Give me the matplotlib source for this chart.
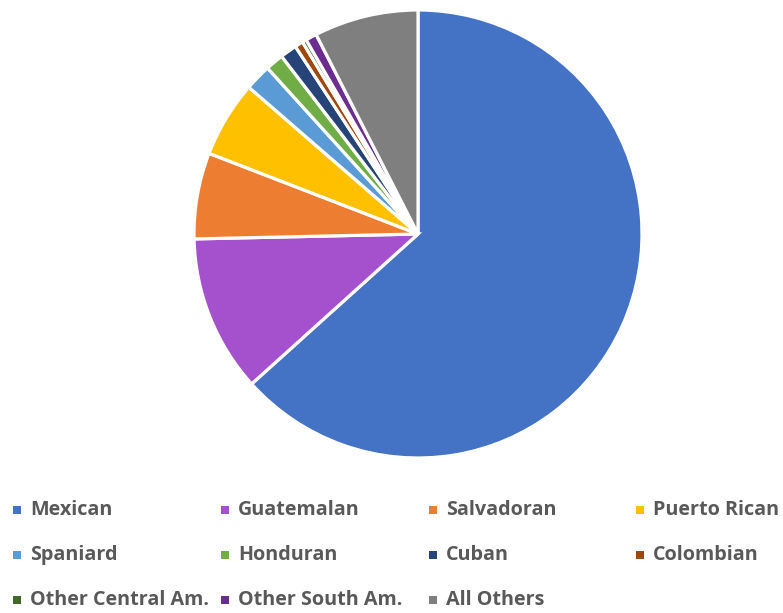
import matplotlib
matplotlib.use("Agg")
import matplotlib.pyplot as plt
from matplotlib.patches import Rectangle

# share of population by origin, percent
groups = ["Mexican", "Guatemalan", "Salvadoran", "Puerto Rican",
          "Spaniard", "Honduran", "Cuban", "Colombian",
          "Other Central Am.", "Other South Am.", "All Others"]
shares = [63.2, 11.3, 6.2, 5.5, 1.9, 1.3, 1.2, 0.6, 0.3, 0.8, 7.5]
colors = ["#4472C4", "#A550CC", "#ED7D31", "#FFC000",
          "#5B9BD5", "#70AD47", "#264478", "#9E480E",
          "#43682B", "#6B2D8F", "#7F7F7F"]

W, H = 783, 613
fig = plt.figure(figsize=(W / 100, H / 100), dpi=100)

# pie centred at (418, 234) px, radius 224 px
cx, cy, r = 418, 234, 224
ax = fig.add_axes([(cx - r) / W, (H - cy - r) / H, 2 * r / W, 2 * r / H])
ax.pie(shares, colors=colors, startangle=90, counterclock=False,
       wedgeprops=dict(edgecolor="white", linewidth=2.3))
ax.set_xlim(-1, 1)
ax.set_ylim(-1, 1)
ax.set_aspect("equal")
ax.axis("off")

# legend: 4 equal columns, 3 rows
col_x = [17, 225, 433, 640]
row_y = [510, 555, 600]
for i, (name, c) in enumerate(zip(groups, colors)):
    row, col = divmod(i, 4)
    mx, my = col_x[col], row_y[row]
    fig.patches.append(Rectangle(((mx - 4) / W, 1 - (my + 4) / H), 8 / W, 8 / H,
                                 facecolor=c, edgecolor="none",
                                 transform=fig.transFigure, figure=fig))
    fig.text((mx + 13) / W, 1 - my / H, name, fontsize=14.2, fontweight="bold",
             family=["Open Sans", "DejaVu Sans"], color="#595959",
             ha="left", va="center")

fig.savefig("out.png", dpi=100, facecolor="white")
